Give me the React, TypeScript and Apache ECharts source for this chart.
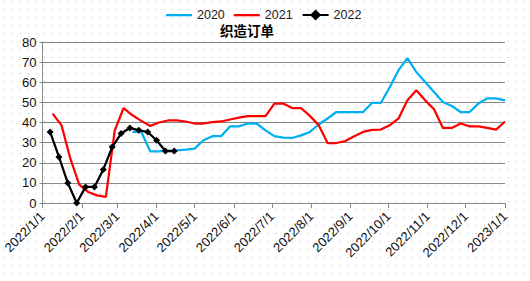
import React, { useEffect, useRef } from "react";
import * as echarts from "echarts";

const TITLE = "织造订单";
const SERIES_NAMES = ["2020", "2021", "2022"];

// weekly series start dates (plotted on the 2022 calendar)
const START_2020 = "2022-03-13";
const START_2021 = "2022-01-09";
const START_2022 = "2022-01-07";

const VALUES_2020 = [
  35.3, 35.3, 25.7, 25.7, 26, 26.2, 26.5, 27, 31.2, 33.2, 33.2, 38.1, 38.1, 39.5, 39.5,
  36.1, 33.2, 32.5, 32.3, 33.6, 35.3, 39, 42, 45.2, 45.2, 45.2, 45.2, 49.7, 49.7, 57.5,
  66, 72, 65.1, 60.1, 55.2, 50.2, 48.2, 45.2, 45.2, 49.4, 52, 52, 51,
];
const VALUES_2021 = [
  44.4, 38.6, 22, 9.1, 5.5, 3.8, 3, 36, 47.2, 43.6, 40.8, 38.3, 40, 41, 41, 40.5, 39.5,
  39.5, 40.2, 40.5, 41.5, 42.4, 43.2, 43.2, 43.2, 49.4, 49.4, 47.2, 47.2, 43.3, 38.6,
  29.8, 29.8, 30.8, 33.2, 35.3, 36.3, 36.5, 38.6, 42, 51, 56, 51, 46.6, 37.3, 37.3, 39.5,
  38.1, 38.1, 37.3, 36.5, 40.5,
];
const VALUES_2022 = [35.3, 22.9, 9.9, 0, 8, 8, 16.7, 27.8, 34.5, 37.3, 36.1, 35.3, 31.2, 25.8, 25.8];

const X_MIN = "2022-01-01";
const X_MAX = "2023-01-01";
const Y_MIN = 0;
const Y_MAX = 80;
const Y_STEP = 10;

const DAY = 86400000;

function weekly(start: string, values: number[]) {
  const [y, m, d] = start.split("-").map(Number);
  return values.map((v, i) => [new Date(y, m - 1, d + 7 * i).getTime(), v]);
}

function parseDate(s: string) {
  const [y, m, d] = s.split("-").map(Number);
  return new Date(y, m - 1, d).getTime();
}

const LINE_ICON = "path://M0,0M26,14M0,6L26,6L26,8.3L0,8.3Z";

const DOTS =
  "url(\"data:image/svg+xml,%3Csvg xmlns='http://www.w3.org/2000/svg' width='8' height='8'%3E%3Crect x='4' y='1' width='1' height='1' fill='%23c4c4c4'/%3E%3C/svg%3E\")";

export default function App() {
  const ref = useRef<HTMLDivElement>(null);

  useEffect(() => {
    if (!ref.current) return;
    const chart = echarts.init(ref.current, undefined, { renderer: "svg" });
    const axisGray = "#878787";
    const font = "'Liberation Sans', Arial, sans-serif";
    chart.setOption({
      animation: false,
      textStyle: { fontFamily: font },
      title: {
        text: TITLE,
        left: 215,
        top: 18,
        textStyle: {
          fontSize: 13.5,
          fontWeight: "bold",
          color: "#000",
          fontFamily: "'Noto Sans CJK SC', sans-serif",
        },
      },
      legend: {
        left: 166,
        top: 8,
        padding: 0,
        itemWidth: 26,
        itemHeight: 14,
        itemGap: 9,
        textStyle: { fontSize: 12.5, color: "#222", fontFamily: font },
        data: [
          { name: SERIES_NAMES[0], icon: LINE_ICON },
          { name: SERIES_NAMES[1], icon: LINE_ICON },
          { name: SERIES_NAMES[2] },
        ],
      },
      grid: { left: 36, right: 25, top: 42, bottom: 78, containLabel: false },
      xAxis: {
        type: "time",
        min: parseDate(X_MIN),
        max: parseDate(X_MAX),
        minInterval: 28 * DAY,
        maxInterval: 31 * DAY,
        axisLine: { show: true, lineStyle: { color: axisGray, width: 1 } },
        axisTick: { show: true, length: 5, lineStyle: { color: axisGray } },
        splitLine: { show: false },
        axisLabel: {
          rotate: 45,
          fontSize: 13,
          color: "#111",
          margin: 11,
          showMinLabel: true,
          showMaxLabel: true,
          hideOverlap: false,
          formatter: (val: number) => {
            const d = new Date(val);
            return `${d.getFullYear()}/${d.getMonth() + 1}/${d.getDate()}`;
          },
        },
      },
      yAxis: {
        type: "value",
        min: Y_MIN,
        max: Y_MAX,
        interval: Y_STEP,
        axisLine: { show: true, lineStyle: { color: axisGray, width: 1 } },
        axisTick: { show: true, length: 3, lineStyle: { color: axisGray } },
        splitLine: { show: true, lineStyle: { color: axisGray, width: 1 } },
        axisLabel: { fontSize: 13, color: "#111", margin: 6 },
      },
      series: [
        {
          name: SERIES_NAMES[0],
          type: "line",
          data: weekly(START_2020, VALUES_2020),
          symbol: "none",
          lineStyle: { color: "#00B0F0", width: 2.25 },
          itemStyle: { color: "#00B0F0" },
          z: 2,
        },
        {
          name: SERIES_NAMES[1],
          type: "line",
          data: weekly(START_2021, VALUES_2021),
          symbol: "none",
          lineStyle: { color: "#FF0000", width: 2.25 },
          itemStyle: { color: "#FF0000" },
          z: 3,
        },
        {
          name: SERIES_NAMES[2],
          type: "line",
          data: weekly(START_2022, VALUES_2022),
          symbol: "diamond",
          symbolSize: 7,
          lineStyle: { color: "#000000", width: 2.25 },
          itemStyle: { color: "#000000" },
          z: 4,
        },
      ],
    });
    return () => chart.dispose();
  }, []);

  return (
    <div
      style={{
        position: "absolute",
        left: 0,
        top: 0,
        width: 530,
        height: 281,
        backgroundColor: "#fff",
        backgroundImage: DOTS,
      }}
    >
      <div ref={ref} style={{ width: 530, height: 281 }} />
    </div>
  );
}
